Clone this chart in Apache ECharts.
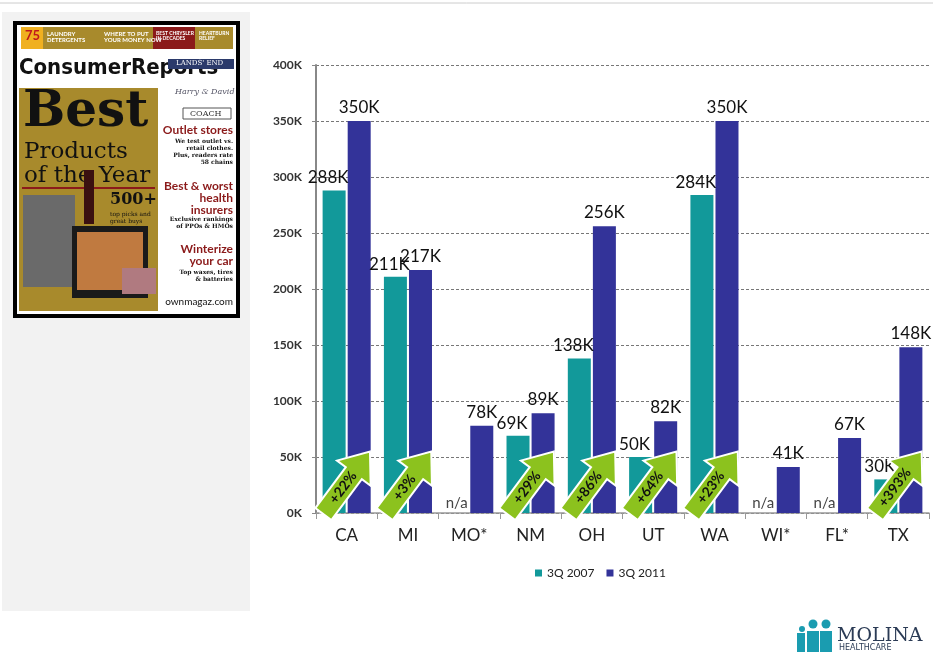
<!DOCTYPE html>
<html>
<head>
  <meta charset="utf-8" />
  <script src="https://cdn.jsdelivr.net/npm/echarts@6/dist/echarts.min.js"></script>
  <style>
    html, body { margin: 0; padding: 0; background: #fff; }
    #chart { width: 933px; height: 657px; }
  </style>
</head>
<body>
  <div id="chart"></div>
  <script type="text/javascript">
    // states and membership, thousands
    const states = ['CA', 'MI', 'MO*', 'NM', 'OH', 'UT', 'WA', 'WI*', 'FL*', 'TX'];
    const q2007 = [288, 211, null, 69, 138, 50, 284, null, null, 30];
    const q2011 = [350, 217, 78, 89, 256, 82, 350, 41, 67, 148];
    const growth = ['+22%', '+3%', null, '+29%', '+86%', '+64%', '+23%', null, null, '+393%'];
    const yTicks = [0, 50, 100, 150, 200, 250, 300, 350, 400];

    const TEAL = '#12999a';
    const NAVY = '#333399';
    const GREEN = '#8cc21e';
    const FONT = 'Lato, "Open Sans", sans-serif';

    const chart = echarts.init(document.getElementById('chart'));

    const bars2007 = q2007.map(v => v == null
      ? { value: 0, label: { formatter: 'n/a', color: '#444', fontSize: 15, offset: [0, 2] } }
      : v * 1000);

    const arrowData = growth
      .map((g, i) => g ? [i, 27000, g] : null)
      .filter(d => d);

    function renderArrow(params, api) {
      const pt = api.coord([api.value(0), api.value(1)]);
      const label = arrowData[params.dataIndex][2];
      return {
        type: 'group',
        x: pt[0],
        y: pt[1],
        rotation: 0.93,
        children: [
          {
            type: 'polygon',
            shape: {
              points: [[-39, -10], [12, -10], [12, -21], [39, 0], [12, 21], [12, 10], [-39, 10]]
            },
            style: { fill: GREEN, stroke: '#fff', lineWidth: 2 }
          },
          {
            type: 'text',
            x: -6,
            y: 0,
            style: {
              text: label,
              fill: '#111',
              font: 'bold 14px ' + FONT,
              align: 'center',
              verticalAlign: 'middle'
            }
          }
        ]
      };
    }

    // magazine cover sketch on the left panel
    const serif = '"DejaVu Serif", serif';
    const cover = [
      { type: 'rect', shape: { x: 2, y: 12, width: 248, height: 599 }, style: { fill: '#f2f2f2' } },
      { type: 'rect', shape: { x: 13, y: 21, width: 227, height: 297 }, style: { fill: '#000' } },
      { type: 'rect', shape: { x: 17, y: 25, width: 219, height: 289 }, style: { fill: '#fff' } },
      { type: 'rect', shape: { x: 21, y: 27, width: 212, height: 22 }, style: { fill: '#a88a2c' } },
      { type: 'rect', shape: { x: 153, y: 27, width: 42, height: 22 }, style: { fill: '#8b1a1a' } },
      { type: 'rect', shape: { x: 21, y: 27, width: 22, height: 22 }, style: { fill: '#f0b020' } },
      { type: 'text', x: 25, y: 29, style: { text: '75', fill: '#c0181c', font: 'bold 13px ' + FONT } },
      { type: 'text', x: 47, y: 31, style: { text: 'LAUNDRY\nDETERGENTS', fill: '#fff', font: 'bold 6px ' + FONT } },
      { type: 'text', x: 104, y: 31, style: { text: 'WHERE TO PUT\nYOUR MONEY NOW', fill: '#fff', font: 'bold 6px ' + FONT } },
      { type: 'text', x: 156, y: 31, style: { text: 'BEST CHRYSLER\nIN DECADES', fill: '#fff', font: 'bold 5px ' + FONT } },
      { type: 'text', x: 199, y: 31, style: { text: 'HEARTBURN\nRELIEF', fill: '#fff', font: 'bold 5px ' + FONT } },
      { type: 'text', x: 19, y: 57, style: { text: 'ConsumerReports', fill: '#111', font: 'bold 22px "DejaVu Sans Condensed", sans-serif' } },
      { type: 'rect', shape: { x: 19, y: 88, width: 139, height: 223 }, style: { fill: '#a88a2c' } },
      { type: 'text', x: 23, y: 88, style: { text: 'Best', fill: '#111', font: 'bold 50px ' + serif } },
      { type: 'text', x: 24, y: 140, style: { text: 'Products\nof the Year', fill: '#111', font: '23px ' + serif, lineHeight: 24 } },
      { type: 'line', shape: { x1: 22, y1: 188, x2: 155, y2: 188 }, style: { stroke: '#8b1a1a', lineWidth: 2 } },
      { type: 'text', x: 110, y: 192, style: { text: '500+', fill: '#111', font: 'bold 16px ' + serif } },
      { type: 'text', x: 110, y: 211, style: { text: 'top picks and\ngreat buys', fill: '#111', font: '6px ' + serif, lineHeight: 7 } },
      { type: 'rect', shape: { x: 23, y: 195, width: 52, height: 92 }, style: { fill: '#6a6a6a' } },
      { type: 'rect', shape: { x: 84, y: 170, width: 10, height: 54 }, style: { fill: '#3a1010' } },
      { type: 'rect', shape: { x: 72, y: 226, width: 76, height: 72 }, style: { fill: '#1a1a1a' } },
      { type: 'rect', shape: { x: 77, y: 232, width: 66, height: 58 }, style: { fill: '#c07a40' } },
      { type: 'rect', shape: { x: 122, y: 268, width: 34, height: 26 }, style: { fill: '#b07a80' } },
      { type: 'rect', shape: { x: 168, y: 59, width: 66, height: 10 }, style: { fill: '#2b3a6b' } },
      { type: 'text', x: 176, y: 60, style: { text: "LANDS' END", fill: '#fff', font: '7px ' + serif } },
      { type: 'text', x: 175, y: 88, style: { text: 'Harry & David', fill: '#556', font: 'italic 8px ' + serif } },
      { type: 'rect', shape: { x: 183, y: 108, width: 48, height: 11 }, style: { fill: '#fff', stroke: '#555' } },
      { type: 'text', x: 190, y: 110, style: { text: 'COACH', fill: '#333', font: '8px ' + serif } },
      { type: 'text', x: 233, y: 124, style: { text: 'Outlet stores', fill: '#8b1a1a', font: 'bold 12px ' + FONT, align: 'right' } },
      { type: 'text', x: 233, y: 138, style: { text: 'We test outlet vs.\nretail clothes.\nPlus, readers rate\n58 chains', fill: '#111', font: 'bold 6px ' + serif, align: 'right', lineHeight: 7 } },
      { type: 'text', x: 233, y: 180, style: { text: 'Best & worst\nhealth\ninsurers', fill: '#8b1a1a', font: 'bold 12px ' + FONT, align: 'right', lineHeight: 12 } },
      { type: 'text', x: 233, y: 216, style: { text: 'Exclusive rankings\nof PPOs & HMOs', fill: '#111', font: 'bold 6px ' + serif, align: 'right', lineHeight: 7 } },
      { type: 'text', x: 233, y: 243, style: { text: 'Winterize\nyour car', fill: '#8b1a1a', font: 'bold 12px ' + FONT, align: 'right', lineHeight: 12 } },
      { type: 'text', x: 233, y: 269, style: { text: 'Top waxes, tires\n& batteries', fill: '#111', font: 'bold 6px ' + serif, align: 'right', lineHeight: 7 } },
      { type: 'text', x: 233, y: 297, style: { text: 'ownmagaz.com', fill: '#111', font: '10px ' + FONT, align: 'right' } },
      { type: 'line', shape: { x1: 0, y1: 3, x2: 933, y2: 3 }, style: { stroke: '#ccc', lineWidth: 1 } }
    ];

    // company mark bottom right
    const logo = [
      { type: 'circle', shape: { cx: 802, cy: 629, r: 3 }, style: { fill: '#1a9cb0' } },
      { type: 'circle', shape: { cx: 813, cy: 624, r: 4.5 }, style: { fill: '#1a9cb0' } },
      { type: 'circle', shape: { cx: 826, cy: 624, r: 4.5 }, style: { fill: '#1a9cb0' } },
      { type: 'rect', shape: { x: 797, y: 633, width: 8, height: 19 }, style: { fill: '#1a9cb0' } },
      { type: 'rect', shape: { x: 807, y: 631, width: 12, height: 21 }, style: { fill: '#1a9cb0' } },
      { type: 'rect', shape: { x: 820, y: 631, width: 12, height: 21 }, style: { fill: '#1a9cb0' } },
      { type: 'text', x: 837, y: 627, style: { text: 'MOLINA', fill: '#2b3b55', font: '19px "DejaVu Serif", serif' } },
      { type: 'text', x: 839, y: 644, style: { text: 'HEALTHCARE', fill: '#2b3b55', font: '8px "DejaVu Sans", sans-serif' } }
    ];

    const option = {
      animation: false,
      textStyle: { fontFamily: FONT },
      graphic: cover.concat(logo),
      legend: {
        data: ['3Q 2007', '3Q 2011'],
        top: 562,
        left: 530,
        icon: 'rect',
        itemWidth: 7,
        itemHeight: 7,
        itemGap: 12,
        textStyle: { fontSize: 12, color: '#222', fontFamily: FONT }
      },
      grid: { left: 316, right: 4, top: 65, bottom: 144 },
      xAxis: {
        type: 'category',
        data: states,
        axisLine: { lineStyle: { color: '#999', width: 1.5 } },
        axisTick: { show: true, length: 6, lineStyle: { color: '#999' } },
        axisLabel: { fontSize: 17, color: '#222', margin: 14, fontFamily: FONT }
      },
      yAxis: {
        type: 'value',
        min: 0,
        max: 400000,
        interval: 50000,
        axisLine: { show: true, lineStyle: { color: '#888', width: 2 } },
        axisTick: { show: true, length: 4, lineStyle: { color: '#888' } },
        axisLabel: {
          fontSize: 12,
          fontWeight: 'bold',
          color: '#333',
          margin: 14,
          formatter: v => yTicks.includes(v / 1000) ? (v / 1000) + 'K' : ''
        },
        splitLine: { lineStyle: { type: [3, 2], color: '#777', width: 1 } }
      },
      series: [
        {
          name: '3Q 2007',
          type: 'bar',
          data: bars2007,
          barWidth: 23,
          barGap: '9%',
          itemStyle: { color: TEAL },
          label: {
            show: true,
            position: 'top',
            offset: [-6, 0],
            distance: 4,
            fontSize: 17,
            color: '#111',
            formatter: p => (p.value / 1000) + 'K'
          }
        },
        {
          name: '3Q 2011',
          type: 'bar',
          data: q2011.map(v => v * 1000),
          barWidth: 23,
          itemStyle: { color: NAVY },
          label: {
            show: true,
            position: 'top',
            distance: 5,
            fontSize: 17,
            color: '#111',
            formatter: p => (p.value / 1000) + 'K'
          }
        },
        {
          name: 'growth',
          type: 'custom',
          data: arrowData,
          renderItem: renderArrow,
          z: 10,
          silent: true
        }
      ]
    };

    chart.setOption(option);

    window.onresize = () => {
      chart?.resize();
    };
  </script>
</body>
</html>
